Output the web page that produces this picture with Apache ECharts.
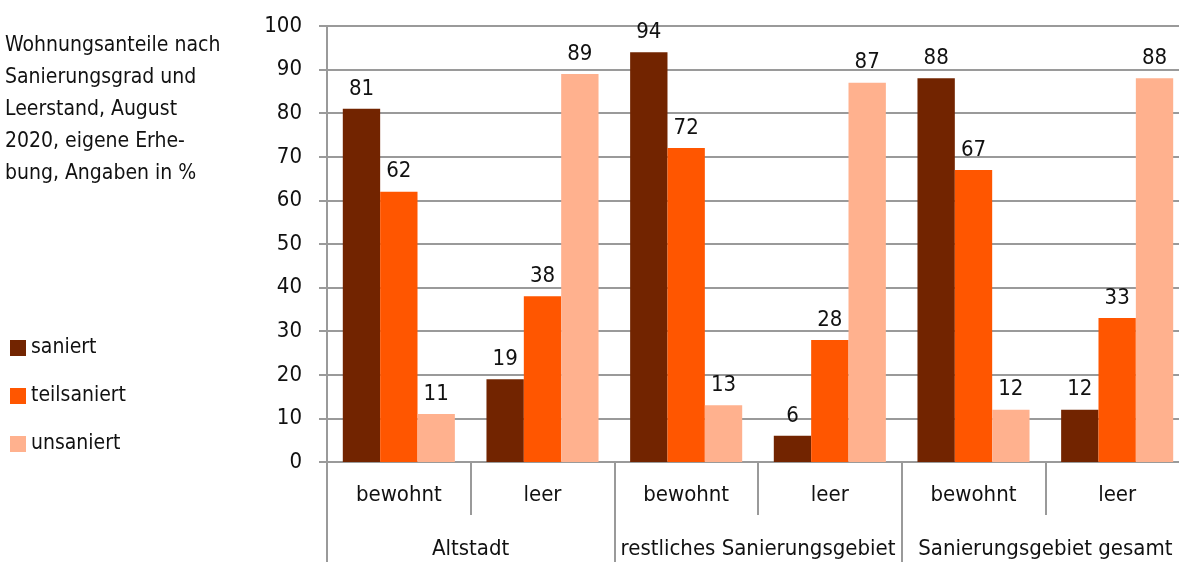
<!DOCTYPE html>
<html>
<head>
<meta charset="utf-8">
<script src="https://cdn.jsdelivr.net/npm/echarts@6/dist/echarts.min.js"></script>
<style>
  html, body { margin: 0; padding: 0; background: #fff; overflow: hidden; }
  #chart { width: 1189px; height: 562px; }
</style>
</head>
<body>
<div id="chart"></div>
<script>
var categories = ["bewohnt", "leer", "bewohnt", "leer", "bewohnt", "leer"];
var groups = ["Altstadt", "restliches Sanierungsgebiet", "Sanierungsgebiet gesamt"];
var saniert = [81, 19, 94, 6, 88, 12];
var teilsaniert = [62, 38, 72, 28, 67, 33];
var unsaniert = [11, 89, 13, 87, 12, 88];

var font = '"DejaVu Sans Condensed", "Liberation Sans Narrow", sans-serif';
var gray = "#9a9a9a";

var chart = echarts.init(document.getElementById("chart"));

function barSeries(name, data, color) {
  return {
    name: name,
    type: "bar",
    data: data,
    barGap: "0%",
    barCategoryGap: "22%",
    itemStyle: { color: color },
    label: {
      show: true,
      position: "top",
      distance: 9,
      color: "#111",
      fontFamily: font,
      fontSize: 22
    }
  };
}

chart.setOption({
  backgroundColor: "#fff",
  animation: false,
  textStyle: { fontFamily: font },
  title: {
    text: "Wohnungsanteile nach\nSanierungsgrad und\nLeerstand, August\n2020, eigene Erhe-\nbung, Angaben in %",
    left: 0,
    top: 25,
    textStyle: {
      fontFamily: font,
      fontWeight: "normal",
      fontSize: 21,
      lineHeight: 32,
      color: "#111"
    }
  },
  legend: {
    orient: "vertical",
    left: 10,
    top: 336,
    padding: 0,
    itemWidth: 16,
    itemHeight: 16,
    itemGap: 24,
    icon: "rect",
    textStyle: { fontFamily: font, fontSize: 21, color: "#111", lineHeight: 24 },
    data: ["saniert", "teilsaniert", "unsaniert"]
  },
  grid: {
    left: 327,
    right: 0,
    top: 26,
    bottom: 100,
    containLabel: false
  },
  xAxis: [
    {
      type: "category",
      data: categories,
      position: "bottom",
      axisLine: { show: true, lineStyle: { color: gray, width: 2 } },
      axisTick: { show: true, length: 53, lineStyle: { color: gray, width: 2 } },
      axisLabel: { interval: 0, margin: 22, fontFamily: font, fontSize: 22, color: "#111" }
    },
    {
      type: "category",
      data: groups,
      position: "bottom",
      axisLine: { show: false },
      axisTick: { show: true, length: 101, lineStyle: { color: gray, width: 2 } },
      axisLabel: { interval: 0, margin: 76, fontFamily: font, fontSize: 22, color: "#111" }
    }
  ],
  yAxis: {
    type: "value",
    min: 0,
    max: 100,
    interval: 10,
    axisLine: { show: true, lineStyle: { color: gray, width: 2 } },
    axisTick: { show: true, length: 8, lineStyle: { color: gray, width: 2 } },
    splitLine: { show: true, lineStyle: { color: gray, width: 2 } },
    axisLabel: { margin: 25, fontFamily: font, fontSize: 22, color: "#111" }
  },
  series: [
    barSeries("saniert", saniert, "#722400"),
    barSeries("teilsaniert", teilsaniert, "#ff5600"),
    barSeries("unsaniert", unsaniert, "#ffb18e")
  ]
});
</script>
</body>
</html>
